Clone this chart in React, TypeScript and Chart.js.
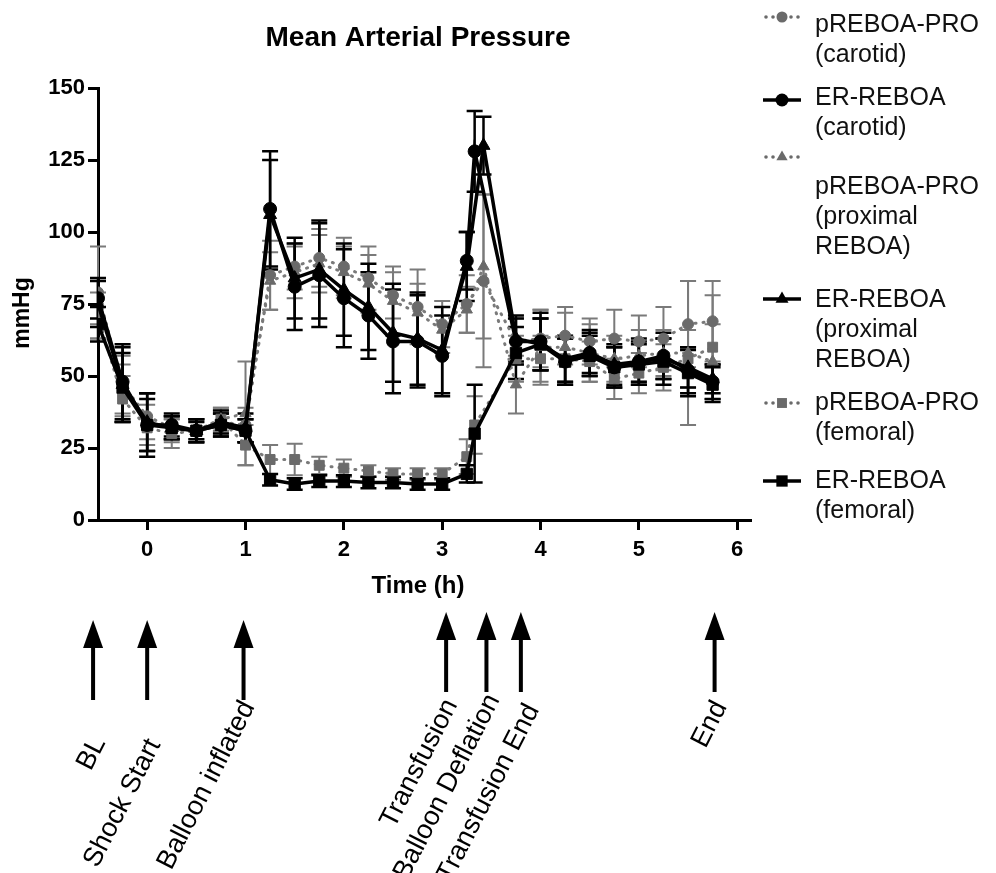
import React, { useEffect, useRef } from "react";
import { Chart, registerables } from "chart.js";
Chart.register(...registerables);

const FONT = "'Liberation Sans', Arial, Helvetica, sans-serif";

// time points (h)
const timeA = [-0.5, -0.25, 0, 0.25, 0.5, 0.75, 1, 1.25, 1.5, 1.75, 2, 2.25, 2.5, 2.75, 3, 3.25, 3.33, 3.75, 4, 4.25, 4.5, 4.75, 5, 5.25, 5.5, 5.75];
const timeB = [-0.5, -0.25, 0, 0.25, 0.5, 0.75, 1, 1.25, 1.5, 1.75, 2, 2.25, 2.5, 2.75, 3, 3.25, 3.42, 3.75, 4, 4.25, 4.5, 4.75, 5, 5.25, 5.5, 5.75];

// pREBOA-PRO (carotid)
const preboaCarotid = [79, 47, 36, 32, 31, 34, 33, 85, 88, 91, 88, 84, 78, 74, 68, 75, 83, 62, 63, 64, 62, 63, 62, 63, 68, 69];
const preboaCarotidSd = [16, 10, 8, 4, 4, 4, 6, 12, 8, 10, 10, 11, 8, 13, 8, 10, 30, 8, 10, 10, 8, 10, 9, 11, 15, 14];
// ER-REBOA (carotid)
const erCarotid = [77, 48, 33, 33, 31, 33, 31, 108, 81, 85, 77, 71, 62, 62, 57, 90, 128, 62, 62, 55, 58, 53, 55, 57, 52, 48];
const erCarotidSd = [7, 13, 11, 4, 4, 4, 4, 20, 15, 18, 17, 15, 18, 16, 14, 10, 14, 8, 10, 8, 8, 7, 8, 8, 8, 6];
// pREBOA-PRO (proximal REBOA)
const preboaProximal = [76, 45, 35, 31, 31, 35, 37, 83, 86, 89, 86, 82, 76, 72, 66, 73, 88, 47, 60, 60, 58, 56, 57, 58, 58, 55];
const preboaProximalSd = [8, 9, 9, 4, 4, 4, 18, 10, 9, 10, 9, 10, 12, 10, 8, 8, 25, 10, 13, 12, 10, 8, 9, 8, 25, 13];
// ER-REBOA (proximal REBOA)
const erProximal = [75, 47, 34, 32, 31, 34, 32, 106, 84, 87, 80, 74, 65, 63, 59, 88, 130, 63, 61, 56, 58, 54, 55, 56, 53, 49];
const erProximalSd = [8, 13, 10, 4, 4, 4, 5, 19, 14, 17, 16, 15, 17, 16, 15, 12, 10, 8, 9, 8, 7, 7, 7, 7, 7, 5];
// pREBOA-PRO (femoral)
const preboaFemoral = [71, 42, 32, 30, 31, 35, 26, 21, 21, 19, 18, 17, 16, 16, 16, 22, 33, 56, 56, 56, 55, 49, 51, 53, 56, 60];
const preboaFemoralSd = [8, 8, 8, 5, 3, 4, 7, 5, 5.5, 3, 3, 2, 2, 2, 2, 6, 10, 8, 8, 8, 7, 7, 7, 8, 10, 18];
// ER-REBOA (femoral)
const erFemoral = [68, 46, 33, 32, 31, 33, 31, 14, 12.5, 13.5, 13.5, 13, 13, 12.5, 12.5, 16, 30, 58, 61, 55, 57, 53, 54, 55, 51, 47];
const erFemoralSd = [6, 12, 9, 4, 3, 4, 4, 2, 2, 2, 2, 2, 2, 2, 2, 3, 17, 9, 9, 8, 7, 7, 7, 8, 8, 6];

const seriesNames = [
  ["pREBOA-PRO", "(carotid)"],
  ["ER-REBOA", "(carotid)"],
  ["pREBOA-PRO", "(proximal", "REBOA)"],
  ["ER-REBOA", "(proximal", "REBOA)"],
  ["pREBOA-PRO", "(femoral)"],
  ["ER-REBOA", "(femoral)"],
];

const xTickValues = [0, 1, 2, 3, 4, 5, 6];
const eventTimes = [-0.55, 0, 0.98, 3.04, 3.45, 3.8, 5.77];
const eventLabels = ["BL", "Shock Start", "Balloon inflated", "Transfusion", "Balloon Deflation", "Transfusion End", "End"];

const GRAY = "#6a6a6a";
const GRAY_LINE = "#7a7a7a";
const BLACK = "#000000";

const pts = (t: number[], v: number[]) => t.map((x, i) => ({ x, y: v[i] }));

function markerRadius(style: string, pro: boolean) {
  return style === "circle" ? (pro ? 5.5 : 6.5) : style === "triangle" ? (pro ? 6.5 : 7.5) : pro ? 7 : 8;
}

function makeSet(nameIdx: number, t: number[], v: number[], sd: number[], style: string, pro: boolean) {
  return {
    label: seriesNames[nameIdx].join(" "),
    data: pts(t, v),
    errors: sd,
    pro,
    pointStyle: style,
    pointRadius: markerRadius(style, pro),
    pointBackgroundColor: pro ? GRAY : BLACK,
    pointBorderColor: pro ? GRAY : BLACK,
    pointBorderWidth: 1,
    borderColor: pro ? GRAY_LINE : BLACK,
    borderWidth: pro ? 3 : 3.5,
    borderDash: pro ? [1, 7] : [],
    borderCapStyle: pro ? "round" : "butt",
    tension: 0,
    fill: false,
    order: pro ? 2 : 1,
  };
}

const errorBarPlugin = {
  id: "errorBars",
  beforeDatasetsDraw(chart: any) {
    const { ctx } = chart;
    const xs = chart.scales.x;
    const ys = chart.scales.y;
    const idx = chart.data.datasets.map((_: any, i: number) => i);
    idx.sort((a: number, b: number) => chart.data.datasets[b].order - chart.data.datasets[a].order);
    ctx.save();
    for (const i of idx) {
      const ds = chart.data.datasets[i];
      ctx.strokeStyle = ds.pro ? GRAY_LINE : BLACK;
      ctx.lineWidth = ds.pro ? 2 : 2.5;
      ds.data.forEach((p: any, j: number) => {
        const e = ds.errors[j];
        const px = xs.getPixelForValue(p.x);
        const y1 = ys.getPixelForValue(p.y + e);
        const y2 = ys.getPixelForValue(Math.max(0, p.y - e));
        ctx.beginPath();
        ctx.moveTo(px, y1);
        ctx.lineTo(px, y2);
        ctx.moveTo(px - 8, y1);
        ctx.lineTo(px + 8, y1);
        ctx.moveTo(px - 8, y2);
        ctx.lineTo(px + 8, y2);
        ctx.stroke();
      });
    }
    ctx.restore();
  },
};

const decorPlugin = {
  id: "decor",
  afterDraw(chart: any) {
    const { ctx } = chart;
    const xs = chart.scales.x;
    ctx.save();
    ctx.fillStyle = "#000";
    // title
    ctx.font = `bold 28px ${FONT}`;
    ctx.textAlign = "center";
    ctx.textBaseline = "middle";
    ctx.fillText("Mean Arterial Pressure", 418, 38);
    // axis titles
    ctx.font = `bold 24px ${FONT}`;
    ctx.fillText("Time (h)", 418, 586);
    ctx.save();
    ctx.translate(23, 313);
    ctx.rotate(-Math.PI / 2);
    ctx.font = `bold 23px ${FONT}`;
    ctx.fillText("mmHg", 0, 0);
    ctx.restore();

    // legend
    const symbolY = [17, 100, 157, 299, 403, 481];
    const textY = [25, 98, 187, 300, 403, 481];
    const styles = ["circle", "circle", "triangle", "triangle", "rect", "rect"];
    ctx.textAlign = "left";
    ctx.font = `25px ${FONT}`;
    seriesNames.forEach((lines, k) => {
      const pro = k % 2 === 0;
      const sy = symbolY[k];
      if (pro) {
        ctx.fillStyle = GRAY;
        [766, 773, 791, 798].forEach((dx) => {
          ctx.beginPath();
          ctx.arc(dx, sy, 1.8, 0, Math.PI * 2);
          ctx.fill();
        });
      } else {
        ctx.strokeStyle = BLACK;
        ctx.lineWidth = 3.5;
        ctx.beginPath();
        ctx.moveTo(763, sy);
        ctx.lineTo(801, sy);
        ctx.stroke();
      }
      const c = pro ? GRAY : BLACK;
      const st = styles[k];
      const r = markerRadius(st, pro);
      ctx.fillStyle = c;
      ctx.beginPath();
      if (st === "circle") {
        ctx.arc(782, sy, r, 0, Math.PI * 2);
      } else if (st === "triangle") {
        ctx.moveTo(782, sy - r);
        ctx.lineTo(782 + r * 0.866, sy + r * 0.5);
        ctx.lineTo(782 - r * 0.866, sy + r * 0.5);
        ctx.closePath();
      } else {
        const s = r * Math.SQRT1_2;
        ctx.rect(782 - s, sy - s, 2 * s, 2 * s);
      }
      ctx.fill();
      ctx.fillStyle = "#111";
      lines.forEach((ln, m) => ctx.fillText(ln, 815, textY[k] + m * 30));
    });

    // event arrows + labels
    const labelTop = [739, 741, 703, 701, 696, 706, 703];
    const labelDx = [6, 7, 5, 5, 7, 12, 6];
    ctx.fillStyle = "#000";
    eventTimes.forEach((t, k) => {
      const px = xs.getPixelForValue(t);
      const top = k < 3 ? 620 : 612;
      const bottom = top + 80;
      ctx.fillRect(px - 2, top + 24, 4, bottom - top - 24);
      ctx.beginPath();
      ctx.moveTo(px, top);
      ctx.lineTo(px - 10, top + 28);
      ctx.lineTo(px + 10, top + 28);
      ctx.closePath();
      ctx.fill();
      ctx.save();
      ctx.translate(px + labelDx[k], labelTop[k]);
      ctx.rotate((-63 * Math.PI) / 180);
      ctx.textAlign = "right";
      ctx.textBaseline = "middle";
      ctx.font = `27px ${FONT}`;
      ctx.fillText(eventLabels[k], 0, 0);
      ctx.restore();
    });
    ctx.restore();
  },
};

export default function App() {
  const ref = useRef<HTMLCanvasElement | null>(null);
  useEffect(() => {
    if (!ref.current) return;
    const datasets: any[] = [
      makeSet(0, timeB, preboaCarotid, preboaCarotidSd, "circle", true),
      makeSet(1, timeA, erCarotid, erCarotidSd, "circle", false),
      makeSet(2, timeB, preboaProximal, preboaProximalSd, "triangle", true),
      makeSet(3, timeB, erProximal, erProximalSd, "triangle", false),
      makeSet(4, timeA, preboaFemoral, preboaFemoralSd, "rect", true),
      makeSet(5, timeA, erFemoral, erFemoralSd, "rect", false),
    ];
    const chart = new Chart(ref.current, {
      type: "line",
      data: { datasets },
      options: {
        animation: false,
        responsive: true,
        maintainAspectRatio: false,
        layout: { padding: { left: 0, top: 88, right: 246, bottom: 273 } },
        plugins: { legend: { display: false }, title: { display: false }, tooltip: { enabled: false } },
        scales: {
          x: {
            type: "linear",
            min: -0.5,
            max: 6.13,
            afterBuildTicks: (s: any) => {
              s.ticks = xTickValues.map((v) => ({ value: v }));
            },
            afterFit: (s: any) => {
              s.height = 80;
            },
            ticks: {
              color: "#000",
              font: { family: FONT, size: 22, weight: "bold" },
              padding: 7,
              maxRotation: 0,
              callback: (v: any) => String(v),
            },
            grid: { display: true, drawOnChartArea: false, drawTicks: true, tickLength: 10, lineWidth: 3, color: "#000" },
            border: { display: true, width: 3, color: "#000" },
          },
          y: {
            type: "linear",
            min: 0,
            max: 150,
            afterFit: (s: any) => {
              s.width = 98;
            },
            ticks: {
              stepSize: 25,
              color: "#000",
              font: { family: FONT, size: 22, weight: "bold" },
              padding: 3,
            },
            grid: { display: true, drawOnChartArea: false, drawTicks: true, tickLength: 10, lineWidth: 3, color: "#000" },
            border: { display: true, width: 3, color: "#000" },
          },
        },
      } as any,
      plugins: [errorBarPlugin, decorPlugin],
    });
    return () => chart.destroy();
  }, []);
  return (
    <div style={{ position: "fixed", left: 0, top: 0, width: 996, height: 873, background: "#fff" }}>
      <canvas ref={ref} />
    </div>
  );
}
